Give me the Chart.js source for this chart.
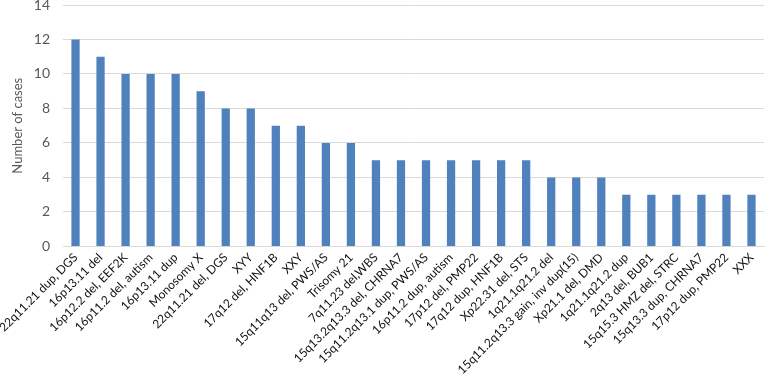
<!DOCTYPE html>
<html>
<head>
<meta charset="utf-8">
<script src="https://cdn.jsdelivr.net/npm/chart.js@4"></script>
<style>
html,body{margin:0;padding:0;background:#fff;}
#wrap{width:765px;height:381px;position:relative;}
</style>
</head>
<body>
<div id="wrap"><canvas id="c"></canvas></div>
<script>
const categories = [
  "22q11.21 dup, DGS","16p13.11 del","16p12.2 del, EEF2K","16p11.2 del, autism","16p13.11 dup",
  "Monosomy X","22q11.21 del, DGS","XYY","17q12 del, HNF1B","XXY",
  "15q11q13 del, PWS/AS","Trisomy 21","7q11.23 del,WBS","15q13.2q13.3 del, CHRNA7","15q11.2q13.1 dup, PWS/AS",
  "16p11.2 dup, autism","17p12 del, PMP22","17q12 dup, HNF1B","Xp22.31 del, STS","1q21.1q21.2 del",
  "15q11.2q13.3 gain, inv dup(15)","Xp21.1 del, DMD","1q21.1q21.2 dup","2q13 del, BUB1","15q15.3 HMZ del, STRC",
  "15q13.3 dup, CHRNA7","17p12 dup, PMP22","XXX"
];
const cases = [12,11,10,10,10,9,8,8,7,7,6,6,5,5,5,5,5,5,5,4,4,4,3,3,3,3,3,3];
const yTicks = [0,2,4,6,8,10,12,14];
const yTitle = "Number of cases";

new Chart(document.getElementById('c'), {
  type: 'bar',
  data: {
    labels: categories,
    datasets: [{
      data: cases,
      backgroundColor: '#4f81bd',
      barPercentage: 0.33,
      categoryPercentage: 1.0
    }]
  },
  options: {
    responsive: true,
    maintainAspectRatio: false,
    animation: false,
    layout: { padding: { left: 0, right: 1, top: 5, bottom: 0 } },
    plugins: { legend: { display: false }, tooltip: { enabled: false } },
    scales: {
      x: {
        grid: { display: false, drawTicks: false },
        border: { color: '#d9d9d9' },
        afterFit: (s) => { s.paddingLeft = 0; s.paddingRight = 0; },
        ticks: {
          minRotation: 45, maxRotation: 45, autoSkip: false,
          color: '#111', padding: 4,
          font: { family: 'Lato, "Open Sans", sans-serif', size: 12 }
        }
      },
      y: {
        min: 0, max: 14,
        afterBuildTicks: (axis) => { axis.ticks = yTicks.map(v => ({ value: v })); },
        afterFit: (s) => { s.width = 63; s.paddingTop = 0; s.paddingBottom = 0; },
        grid: { color: '#d9d9d9', drawTicks: false },
        border: { display: false },
        ticks: {
          color: '#595959', padding: 13,
          font: { family: 'Lato, "Open Sans", sans-serif', size: 14 }
        },
        title: {
          display: true, text: yTitle, color: '#595959', padding: { top: 0, bottom: 0 },
          font: { family: 'Lato, "Open Sans", sans-serif', size: 13, lineHeight: 2.7 }
        }
      }
    }
  }
});
</script>
</body>
</html>
